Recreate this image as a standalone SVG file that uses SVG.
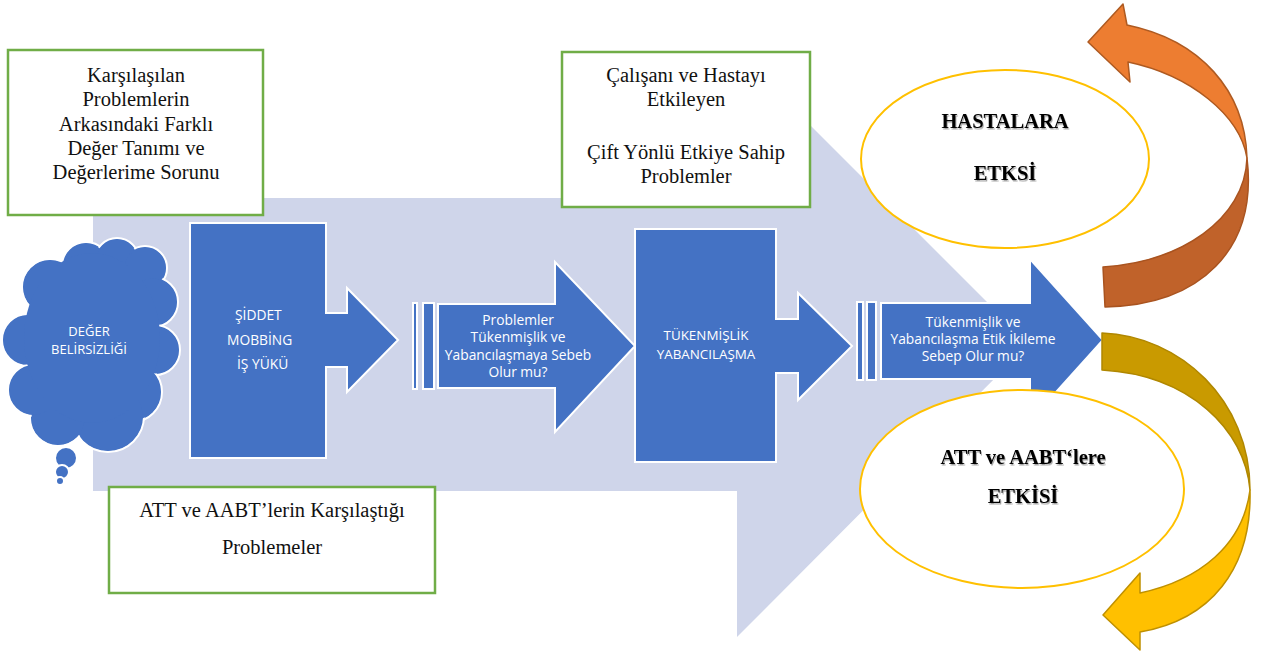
<svg xmlns="http://www.w3.org/2000/svg" width="1263" height="653" viewBox="0 0 1263 653">
  <defs>
    <filter id="txtShadow" x="-10%" y="-30%" width="130%" height="170%">
      <feDropShadow dx="1" dy="1.5" stdDeviation="0.7" flood-color="#000" flood-opacity="0.35"/>
    </filter>
  </defs>
  <style>
    .box{fill:#fff;stroke:#70AD47;stroke-width:2.5}
    .blk{fill:#4472C4;stroke:#fff;stroke-width:2}
    .serif{font-family:"Liberation Serif","Times New Roman",serif;font-size:20.5px;fill:#111;text-anchor:middle}
    .bold{font-family:"Liberation Serif","Times New Roman",serif;font-size:20.5px;font-weight:bold;fill:#000;text-anchor:middle}
    .sans{font-family:"Open Sans","Noto Sans",sans-serif;font-size:13.8px;fill:#fff}
    .small{font-size:13px}
    .caps{font-size:13.4px}
    .mid{text-anchor:middle}
    .oval{fill:#fff;stroke:#FFC000;stroke-width:2}
  </style>

  <rect width="1263" height="653" fill="#fff"/>

  <!-- large pale background arrow -->
  <path id="backdrop" d="M93,198 H737 V52 L1029,344 L737,637 V491 H93 Z" fill="#CFD5EA"/>

  <!-- thought cloud -->
  <g id="cloud">
    <g fill="#4472C4" stroke="#fff" stroke-width="2">
      <circle cx="28" cy="340" r="26"/>
      <circle cx="50" cy="287" r="28"/>
      <circle cx="86" cy="266" r="24"/>
      <circle cx="117" cy="260" r="22"/>
      <circle cx="145" cy="268" r="22"/>
      <circle cx="153" cy="302" r="25"/>
      <circle cx="155" cy="350" r="25"/>
      <circle cx="132" cy="392" r="30"/>
      <circle cx="108" cy="416" r="36"/>
      <circle cx="58" cy="418" r="28"/>
      <circle cx="34" cy="390" r="26"/>
      <circle cx="66" cy="458" r="11"/>
      <circle cx="62" cy="472" r="7"/>
      <circle cx="60" cy="481" r="4"/>
    </g>
    <g fill="#4472C4">
      <circle cx="28" cy="340" r="24.5"/>
      <circle cx="50" cy="287" r="26.5"/>
      <circle cx="86" cy="266" r="22.5"/>
      <circle cx="117" cy="260" r="20.5"/>
      <circle cx="145" cy="268" r="20.5"/>
      <circle cx="153" cy="302" r="23.5"/>
      <circle cx="155" cy="350" r="23.5"/>
      <circle cx="132" cy="392" r="28.5"/>
      <circle cx="108" cy="416" r="34.5"/>
      <circle cx="58" cy="418" r="26.5"/>
      <circle cx="34" cy="390" r="24.5"/>
      <ellipse cx="92" cy="338" rx="68" ry="85"/>
    </g>
    <text class="sans mid small" x="89" y="336">DEĞER</text>
    <text class="sans mid small" x="89" y="354">BELİRSİZLİĞİ</text>
  </g>

  <!-- process blocks -->
  <g id="block-violence">
    <path class="blk" d="M190,223 H326 V313 H347 V288 L398,340 L347,392 V367 H326 V458 H190 Z"/>
    <text class="sans" x="235" y="320">ŞİDDET</text>
    <text class="sans" x="227" y="345">MOBBİNG</text>
    <text class="sans" x="237" y="369">İŞ YÜKÜ</text>
  </g>

  <g id="block-question1">
    <rect class="blk" x="413" y="303" width="4" height="86"/>
    <rect class="blk" x="423" y="303" width="11" height="86"/>
    <path class="blk" d="M438,304 H555 V262 L635,346 L555,432 V388 H438 Z"/>
    <text class="sans mid" x="518" y="325">Problemler</text>
    <text class="sans mid" x="518" y="342">Tükenmişlik ve</text>
    <text class="sans mid" x="518" y="360">Yabancılaşmaya Sebeb</text>
    <text class="sans mid" x="518" y="377">Olur mu?</text>
  </g>

  <g id="block-burnout">
    <path class="blk" d="M635,229 H776 V319 H798 V293 L852,346 L798,400 V373 H776 V462 H635 Z"/>
    <text class="sans mid caps" x="706" y="340">TÜKENMİŞLİK</text>
    <text class="sans mid caps" x="706" y="359">YABANCILAŞMA</text>
  </g>

  <!-- note boxes -->
  <g id="note-values">
    <rect class="box" x="8" y="50" width="255" height="165"/>
    <text class="serif" x="136" y="82">Karşılaşılan</text>
    <text class="serif" x="136" y="106">Problemlerin</text>
    <text class="serif" x="136" y="131">Arkasındaki Farklı</text>
    <text class="serif" x="136" y="155">Değer Tanımı ve</text>
    <text class="serif" x="136" y="179">Değerlerime Sorunu</text>
  </g>

  <g id="note-twoway">
    <rect class="box" x="562" y="52" width="248" height="155"/>
    <text class="serif" x="686" y="82">Çalışanı ve Hastayı</text>
    <text class="serif" x="686" y="106">Etkileyen</text>
    <text class="serif" x="686" y="159">Çift Yönlü Etkiye Sahip</text>
    <text class="serif" x="686" y="183">Problemler</text>
  </g>

  <g id="note-problems">
    <rect class="box" x="109" y="487" width="326" height="106"/>
    <text class="serif" x="272" y="517">ATT ve AABT’lerin Karşılaştığı</text>
    <text class="serif" x="272" y="554">Problemeler</text>
  </g>

  <!-- effect on patients -->
  <g id="effect-patients">
    <ellipse class="oval" cx="1005" cy="159" rx="144" ry="89"/>
    <g filter="url(#txtShadow)">
      <text class="bold" x="1005" y="128">HASTALARA</text>
      <text class="bold" x="1005" y="180">ETKSİ</text>
    </g>
  </g>

  <g id="block-question2">
    <rect class="blk" x="857" y="302" width="6" height="78"/>
    <rect class="blk" x="867" y="302" width="9" height="78"/>
    <path class="blk" d="M881,303 H1030 V259 L1103,340 L1030,421 V379 H881 Z"/>
    <text class="sans mid" x="973" y="327">Tükenmişlik ve</text>
    <text class="sans mid" x="973" y="344">Yabancılaşma Etik İkileme</text>
    <text class="sans mid" x="973" y="361">Sebep Olur mu?</text>
  </g>

  <!-- effect on staff -->
  <g id="effect-staff">
    <ellipse class="oval" cx="1022" cy="489" rx="162" ry="99"/>
    <g filter="url(#txtShadow)">
      <text class="bold" x="1023" y="464">ATT ve AABT‘lere</text>
      <text class="bold" x="1023" y="503">ETKİSİ</text>
    </g>
  </g>

  <!-- curved feedback arrows -->
  <g id="connectors">
    <g id="arrow-up">
      <path d="M1103,267 C1180,262 1245,220 1247,158 C1258,250 1200,305 1105,307 Z" fill="#C0622A" stroke="#A9531F" stroke-width="1.5" stroke-linejoin="round"/>
      <path d="M1247,158 C1245,90 1200,40 1127,25 L1123,4 L1088,42 L1130,82 L1128,62 C1190,75 1240,115 1247,158 Z" fill="#ED7D31" stroke="#AE5A21" stroke-width="1.5" stroke-linejoin="round"/>
    </g>
    <g id="arrow-down">
      <path d="M1102,333 C1180,336 1250,400 1250,490 C1245,430 1190,375 1102,370 Z" fill="#C99A00" stroke="#B08700" stroke-width="1.5" stroke-linejoin="round"/>
      <path d="M1250,490 C1252,570 1210,620 1140,632 L1140,650 L1103,615 L1140,573 L1140,593 C1200,580 1243,545 1250,490 Z" fill="#FFC000" stroke="#BF9000" stroke-width="1.5" stroke-linejoin="round"/>
    </g>
  </g>
</svg>
